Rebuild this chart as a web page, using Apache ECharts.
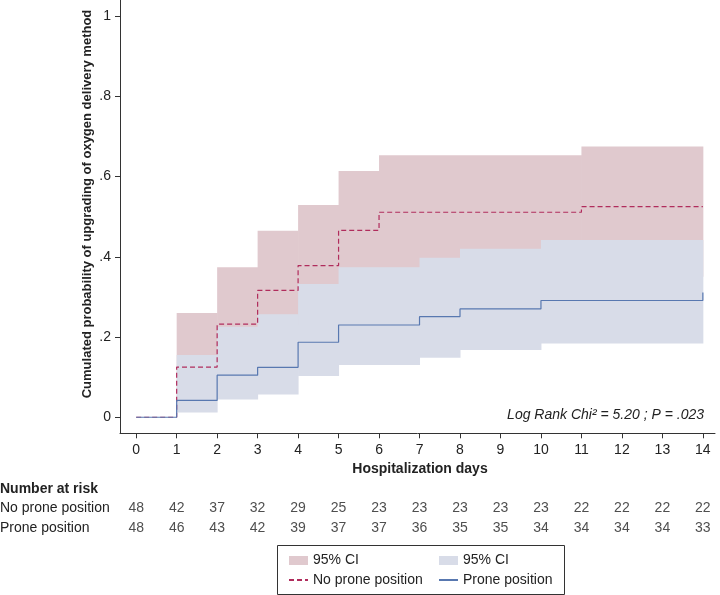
<!DOCTYPE html>
<html>
<head>
<meta charset="utf-8">
<script src="https://cdn.jsdelivr.net/npm/echarts@6/dist/echarts.min.js"></script>
<style>
  html, body { margin: 0; padding: 0; background: #fff; }
  #chart { width: 720px; height: 595px; }
</style>
</head>
<body>
<div id="chart"></div>
<script>
// x axis ticks (days) and y axis ticks
const days = [0, 1, 2, 3, 4, 5, 6, 7, 8, 9, 10, 11, 12, 13, 14];
const yTicks = [0, 0.2, 0.4, 0.6, 0.8, 1];
const yTickLabels = ["0", ".2", ".4", ".6", ".8", "1"];

// No prone position: step estimate + 95% CI
const noProneTimes = [0, 1, 2, 3, 4, 5, 6, 11, 14];
const noProneEst = [0, 0.125, 0.232, 0.316, 0.378, 0.466, 0.511, 0.525, 0.525];
const noProneCiTimes = [1, 2, 3, 4, 5, 6, 11, 14];
const noProneCiLow = [0.05, 0.12, 0.18, 0.23, 0.3, 0.33, 0.35, 0.35];
const noProneCiHigh = [0.26, 0.374, 0.465, 0.529, 0.614, 0.653, 0.675, 0.675];

// Prone position: step estimate + 95% CI
const proneTimes = [0, 1, 2, 3, 4, 5, 7, 8, 10, 14];
const proneEst = [0, 0.042, 0.105, 0.1245, 0.187, 0.23, 0.2506, 0.27, 0.291, 0.311];
const proneCiTimes = [1, 2, 3, 4, 5, 7, 8, 10, 14];
const proneCiLow = [0.0116, 0.044, 0.057, 0.103, 0.13, 0.1485, 0.1676, 0.184, 0.184];
const proneCiHigh = [0.155, 0.2256, 0.257, 0.332, 0.374, 0.3975, 0.42, 0.4415, 0.4415];

// number at risk table
const riskGroups = ["No prone position", "Prone position"];
const riskNoProne = [48, 42, 37, 32, 29, 25, 23, 23, 23, 23, 23, 22, 22, 22, 22];
const riskProne = [48, 46, 43, 42, 39, 37, 37, 36, 35, 35, 34, 34, 34, 34, 33];

const FONT = "'Liberation Sans', Arial, Helvetica, sans-serif";
const TXT = "#222";
const RED_BAND = "#e0c9ce";
const BLUE_BAND = "#d8dce8";
const RED_LINE = "#b02c5c";
const BLUE_LINE = "#5878b0";

const pairs = (xs, ys) => xs.map((x, i) => [x, ys[i]]);
// one [from, to, low, high] item per step of a CI band
const steps = (xs, lo, hi) =>
  xs.slice(0, -1).map((x, i) => [x, xs[i + 1], lo[i], hi[i]]);

const riskData = [];
days.forEach((d, i) => {
  riskData.push([d, riskGroups[0], riskNoProne[i]]);
  riskData.push([d, riskGroups[1], riskProne[i]]);
});

const chart = echarts.init(document.getElementById("chart"));

const bandSeries = (name, data, color) => ({
  name: name,
  type: "custom",
  silent: true,
  itemStyle: { color: color },
  encode: { x: [0, 1], y: [2, 3] },
  renderItem: (params, api) => {
    const a = api.coord([api.value(0), api.value(3)]);
    const b = api.coord([api.value(1), api.value(2)]);
    return {
      type: "rect",
      shape: { x: a[0], y: a[1], width: b[0] - a[0] + 0.5, height: b[1] - a[1] },
      style: { fill: color }
    };
  },
  data: data
});

const legendBase = {
  top: 552.5,
  orient: "vertical",
  padding: 0,
  selectedMode: false,
  itemWidth: 19,
  itemHeight: 9,
  itemGap: 3.5,
  textStyle: { fontSize: 14, color: TXT, fontFamily: FONT, lineHeight: 16 },
  formatter: n => (n.indexOf("95% CI") === 0 ? "95% CI" : n)
};
// line entries: keep the line sample, hide the marker
const lineEntry = name => ({ name: name, itemStyle: { opacity: 0, borderWidth: 0 } });

chart.setOption({
  animation: false,
  textStyle: { fontFamily: FONT },
  grid: [
    { left: 120, width: 595, top: 0, height: 433.3, outerBoundsMode: "none" },
    { left: 120, width: 595, top: 498, height: 40, outerBoundsMode: "none" }
  ],
  xAxis: [
    {
      type: "value",
      gridIndex: 0,
      min: -0.4,
      max: 14.3,
      splitLine: { show: false },
      axisLine: { onZero: false, lineStyle: { color: "#333", width: 1 } },
      axisTick: { customValues: days, length: 5, lineStyle: { color: "#333" } },
      axisLabel: { customValues: days, margin: 10, fontSize: 14, color: TXT, fontFamily: FONT }
    },
    {
      type: "value",
      gridIndex: 1,
      min: -0.4,
      max: 14.3,
      show: false
    }
  ],
  yAxis: [
    {
      type: "value",
      gridIndex: 0,
      min: -0.04,
      max: 1.04,
      splitLine: { show: false },
      axisLine: { show: true, onZero: false, lineStyle: { color: "#333", width: 1 } },
      axisTick: { show: true, customValues: yTicks, length: 5, lineStyle: { color: "#333" } },
      axisLabel: {
        customValues: yTicks,
        margin: 9,
        fontSize: 14,
        color: TXT,
        fontFamily: FONT,
        formatter: v => yTickLabels[yTicks.findIndex(t => Math.abs(t - v) < 1e-6)]
      }
    },
    {
      type: "category",
      gridIndex: 1,
      inverse: true,
      data: riskGroups,
      axisLine: { show: false },
      axisTick: { show: false },
      axisLabel: { align: "left", margin: 120, fontSize: 14, color: TXT, fontFamily: FONT }
    }
  ],
  legend: [
    Object.assign({}, legendBase, {
      left: 288,
      data: [{ name: "95% CI (no prone)", icon: "rect" }, lineEntry("No prone position")]
    }),
    Object.assign({}, legendBase, {
      left: 438,
      data: [{ name: "95% CI (prone)", icon: "rect" }, lineEntry("Prone position")]
    })
  ],
  graphic: [
    {
      type: "text",
      x: 87,
      y: 204,
      rotation: Math.PI / 2,
      style: {
        text: "Cumulated probability of upgrading of oxygen delivery method",
        font: "bold 13px " + FONT,
        fill: TXT,
        align: "center",
        verticalAlign: "middle"
      }
    },
    {
      type: "text",
      x: 420,
      y: 469,
      style: {
        text: "Hospitalization days",
        font: "bold 14px " + FONT,
        fill: TXT,
        align: "center",
        verticalAlign: "middle"
      }
    },
    {
      type: "text",
      x: 704,
      y: 415,
      style: {
        text: "Log Rank Chi\u00b2 = 5.20 ; P = .023",
        font: "italic 14px " + FONT,
        fill: TXT,
        align: "right",
        verticalAlign: "middle"
      }
    },
    {
      type: "text",
      x: 0,
      y: 489,
      style: {
        text: "Number at risk",
        font: "bold 14px " + FONT,
        fill: TXT,
        align: "left",
        verticalAlign: "middle"
      }
    },
    {
      type: "rect",
      shape: { x: 277.5, y: 545.5, width: 287, height: 49 },
      style: { fill: "none", stroke: "#333", lineWidth: 1 }
    }
  ],
  series: [
    bandSeries("95% CI (no prone)", steps(noProneCiTimes, noProneCiLow, noProneCiHigh), RED_BAND),
    bandSeries("95% CI (prone)", steps(proneCiTimes, proneCiLow, proneCiHigh), BLUE_BAND),
    {
      name: "No prone position",
      type: "line",
      step: "end",
      symbol: "none",
      silent: true,
      itemStyle: { color: RED_LINE },
      lineStyle: { color: RED_LINE, width: 1.2, type: [5, 3] },
      data: pairs(noProneTimes, noProneEst)
    },
    {
      name: "Prone position",
      type: "line",
      step: "end",
      symbol: "none",
      silent: true,
      itemStyle: { color: BLUE_LINE },
      lineStyle: { color: BLUE_LINE, width: 1.2 },
      data: pairs(proneTimes, proneEst)
    },
    {
      name: "risk",
      type: "scatter",
      xAxisIndex: 1,
      yAxisIndex: 1,
      symbolSize: 1,
      silent: true,
      itemStyle: { color: "transparent" },
      label: {
        show: true,
        position: "inside",
        fontSize: 14,
        color: TXT,
        fontFamily: FONT,
        formatter: p => String(p.value[2])
      },
      data: riskData
    }
  ]
});
</script>
</body>
</html>
